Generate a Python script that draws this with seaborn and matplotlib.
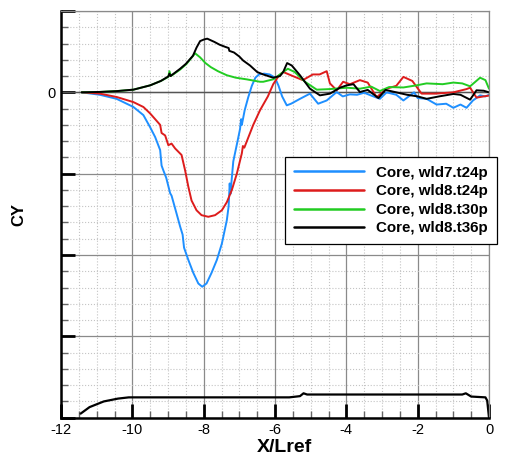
import numpy as np
import pandas as pd
import matplotlib
matplotlib.use("Agg")
import matplotlib.pyplot as plt
from matplotlib.ticker import MultipleLocator, FixedLocator, FixedFormatter
import seaborn as sns

# Side-force coefficient along the body for four runs
x_wld7_t24p = [-11.42, -10.91, -10.44, -9.97, -9.69, -9.50, -9.36, -9.22, -9.18, -9.13,
               -9.05, -8.94, -8.90, -8.76, -8.66, -8.59, -8.55, -8.43, -8.29, -8.15,
               -8.04, -7.92, -7.78, -7.63, -7.49, -7.35, -7.30, -7.27, -7.25, -7.17,
               -7.05, -6.98, -6.95, -6.93, -6.85, -6.75, -6.65, -6.55, -6.45, -6.30,
               -6.15, -6.00, -5.90, -5.80, -5.67, -5.55, -5.30, -5.02, -4.79, -4.55,
               -4.27, -4.10, -3.90, -3.70, -3.50, -3.30, -3.06, -2.87, -2.60, -2.40,
               -2.10, -2.00, -1.75, -1.47, -1.20, -1.00, -0.80, -0.63, -0.45, -0.25,
               -0.10, 0.00]
cy_wld7_t24p = [0.00, -0.03, -0.08, -0.18, -0.28, -0.43, -0.55, -0.71, -0.90, -0.96,
                -1.05, -1.24, -1.27, -1.49, -1.65, -1.75, -1.91, -2.06, -2.22, -2.35,
                -2.39, -2.35, -2.22, -2.06, -1.86, -1.57, -1.40, -1.12, -1.25, -0.85,
                -0.60, -0.45, -0.33, -0.40, -0.22, -0.06, 0.08, 0.18, 0.22, 0.23,
                0.22, 0.18, 0.08, -0.05, -0.16, -0.14, -0.08, -0.016, -0.14, -0.10,
                0.004, -0.05, -0.025, -0.03, -0.005, -0.04, -0.08, 0.00, -0.03, -0.10,
                0.00, -0.07, -0.08, -0.15, -0.14, -0.19, -0.15, -0.19, -0.10, -0.037,
                -0.05, -0.03]

x_wld8_t24p = [-11.42, -10.91, -10.44, -9.97, -9.69, -9.50, -9.32, -9.22, -9.18, -9.08,
               -8.99, -8.90, -8.80, -8.62, -8.52, -8.43, -8.34, -8.20, -8.06, -7.87,
               -7.68, -7.49, -7.35, -7.21, -7.07, -6.93, -6.90, -6.86, -6.61, -6.42,
               -6.20, -6.05, -5.90, -5.77, -5.50, -5.22, -4.94, -4.75, -4.55, -4.46,
               -4.27, -4.09, -3.90, -3.62, -3.40, -3.15, -2.87, -2.60, -2.40, -2.15,
               -1.89, -1.50, -1.00, -0.63, -0.53, -0.35, -0.15, 0.00]
cy_wld8_t24p = [0.00, -0.016, -0.057, -0.12, -0.18, -0.26, -0.35, -0.40, -0.50, -0.53,
                -0.65, -0.63, -0.69, -0.77, -0.96, -1.16, -1.33, -1.45, -1.51, -1.53,
                -1.51, -1.45, -1.35, -1.20, -1.00, -0.75, -0.66, -0.68, -0.40, -0.22,
                -0.05, 0.10, 0.20, 0.25, 0.20, 0.15, 0.22, 0.22, 0.26, 0.11,
                0.025, 0.13, 0.10, 0.15, 0.12, -0.06, 0.045, 0.08, 0.19, 0.14,
                -0.016, -0.016, 0.00, 0.04, 0.057, -0.065, -0.05, -0.04]

x_wld8_t30p = [-11.42, -10.90, -10.44, -9.97, -9.50, -9.20, -8.99, -8.96, -8.92, -8.66,
               -8.48, -8.24, -8.10, -7.95, -7.80, -7.60, -7.35, -7.10, -6.80, -6.42,
               -6.33, -6.05, -5.77, -5.64, -5.45, -5.16, -4.83, -4.46, -3.99, -3.62,
               -3.30, -3.06, -2.80, -2.40, -2.03, -1.75, -1.30, -1.00, -0.75, -0.53,
               -0.25, -0.10, 0.00]
cy_wld8_t30p = [0.00, 0.005, 0.015, 0.033, 0.086, 0.14, 0.19, 0.26, 0.20, 0.28,
                0.35, 0.48, 0.43, 0.36, 0.31, 0.26, 0.21, 0.18, 0.16, 0.13,
                0.13, 0.16, 0.25, 0.29, 0.25, 0.13, 0.033, 0.04, 0.057, 0.045,
                0.07, 0.016, 0.065, 0.06, 0.086, 0.11, 0.10, 0.12, 0.11, 0.074,
                0.18, 0.15, 0.045]

x_wld8_t36p = [-11.42, -10.90, -10.44, -9.97, -9.50, -9.20, -8.99, -8.96, -8.93, -8.66,
               -8.50, -8.30, -8.20, -8.10, -7.99, -7.90, -7.70, -7.55, -7.40, -7.30,
               -7.28, -7.15, -7.00, -6.89, -6.70, -6.50, -6.33, -6.05, -5.86, -5.77,
               -5.66, -5.53, -5.30, -5.02, -4.74, -4.46, -4.18, -3.99, -3.80, -3.62,
               -3.40, -3.10, -2.90, -2.60, -2.30, -2.00, -1.75, -1.40, -1.00, -0.80,
               -0.53, -0.35, -0.15, 0.00]
cy_wld8_t36p = [0.00, 0.005, 0.015, 0.033, 0.086, 0.14, 0.196, 0.23, 0.20, 0.29,
                0.35, 0.45, 0.55, 0.63, 0.65, 0.66, 0.62, 0.585, 0.56, 0.545,
                0.51, 0.49, 0.44, 0.39, 0.33, 0.25, 0.22, 0.18, 0.20, 0.25,
                0.36, 0.33, 0.21, 0.045, -0.037, -0.016, 0.057, 0.086, 0.10, 0.004,
                0.03, -0.07, 0.03, 0.00, -0.03, -0.05, -0.08, -0.05, -0.02, -0.03,
                -0.09, 0.025, 0.02, 0.00]

# Body outline drawn along the bottom of the frame
x_body = [-11.45, -11.20, -10.80, -10.40, -10.10, -5.60, -5.30, -5.20, -5.10, -0.75,
          -0.65, -0.50, -0.10, -0.05, 0.00]
y_body = [-3.95, -3.87, -3.80, -3.765, -3.75, -3.75, -3.735, -3.70, -3.715, -3.715,
          -3.70, -3.74, -3.75, -3.79, -4.00]

series_names = ["Core, wld7.t24p", "Core, wld8.t24p", "Core, wld8.t30p", "Core, wld8.t36p"]
series_x = [x_wld7_t24p, x_wld8_t24p, x_wld8_t30p, x_wld8_t36p]
series_y = [cy_wld7_t24p, cy_wld8_t24p, cy_wld8_t30p, cy_wld8_t36p]
series_colors = ["#1e8fff", "#dd1c1c", "#22cc22", "#000000"]

x_ticks = [-12, -10, -8, -6, -4, -2, 0]
x_tick_labels = ["-12", "-10", "-8", "-6", "-4", "-2", "0"]
y_ticks = [-4, -3, -2, -1, 0, 1]
y_tick_labels = ["", "", "", "", "0", ""]

frames = []
for name, xs, ys in zip(series_names, series_x, series_y):
    frames.append(pd.DataFrame({"X/Lref": xs, "CY": ys, "run": name}))
df = pd.concat(frames, ignore_index=True)
body = pd.DataFrame({"X/Lref": x_body, "CY": y_body})

sns.set_theme(style="white")
plt.rcParams["font.family"] = ["Liberation Sans", "DejaVu Sans"]
plt.rcParams.update({"text.color": "black", "axes.labelcolor": "black",
                     "xtick.color": "black", "ytick.color": "black"})

fig = plt.figure(figsize=(5.05, 4.55), dpi=100)
ax = fig.add_axes([61 / 505, 1 - 417.7 / 455, (489 - 61) / 505, (417.7 - 11) / 455])

# body outline, then the four runs in legend order (last one on top)
sns.lineplot(data=body, x="X/Lref", y="CY", ax=ax, color="black", linewidth=1.6,
             sort=False, estimator=None, legend=False)
sns.lineplot(data=df, x="X/Lref", y="CY", hue="run", ax=ax,
             palette=dict(zip(series_names, series_colors)), hue_order=series_names,
             linewidth=1.4, sort=False, estimator=None, legend=False)

ax.set_xlim(-12, 0)
ax.set_ylim(-4, 1)

# grid: solid major lines, dotted minor lines
ax.xaxis.set_major_locator(FixedLocator(x_ticks))
ax.xaxis.set_major_formatter(FixedFormatter(x_tick_labels))
ax.xaxis.set_minor_locator(MultipleLocator(0.5))
ax.yaxis.set_major_locator(FixedLocator(y_ticks))
ax.yaxis.set_major_formatter(FixedFormatter(y_tick_labels))
ax.yaxis.set_minor_locator(MultipleLocator(0.2))
ax.grid(which="minor", color="#c4c4c4", linestyle=":", linewidth=0.8)
ax.grid(which="major", color="#8a8a8a", linestyle="-", linewidth=0.9)
ax.axhline(0, color="#555555", linewidth=1.0, zorder=1)
ax.set_axisbelow(True)

ax.tick_params(which="major", direction="in", length=10, width=2, color="black",
               labelsize=10.5, pad=4)
ax.tick_params(which="minor", direction="in", length=5, width=1, color="#666666")
ax.tick_params(axis="x", which="both", bottom=True, top=False)
ax.tick_params(axis="y", which="both", left=True, right=False)

for side in ("left", "bottom"):
    ax.spines[side].set_color("black")
    ax.spines[side].set_linewidth(1.8)
for side in ("top", "right"):
    ax.spines[side].set_color("#8a8a8a")
    ax.spines[side].set_linewidth(0.9)

ax.set_xlabel("")
ax.set_ylabel("")
fig.text(284 / 505, 1 - 451.5 / 455, "X/Lref", ha="center", va="baseline",
         fontsize=14, fontweight="bold")
fig.text(19 / 505, 1 - 214 / 455, "CY", ha="center", va="center", rotation=90,
         fontsize=12, fontweight="bold")

handles = [plt.Line2D([], [], color=c, linewidth=1.8) for c in series_colors]
leg = ax.legend(handles, series_names, loc="upper left",
                bbox_to_anchor=(285 / 505, 1 - 156.7 / 455), bbox_transform=fig.transFigure,
                borderaxespad=0, prop={"weight": "bold", "size": 10.9},
                handlelength=4.6, handletextpad=0.8, labelspacing=0.3,
                borderpad=0.6, fancybox=False, framealpha=1, edgecolor="black")
leg.get_frame().set_linewidth(0.9)
leg.set_zorder(5)

fig.savefig("out.png", dpi=100)
